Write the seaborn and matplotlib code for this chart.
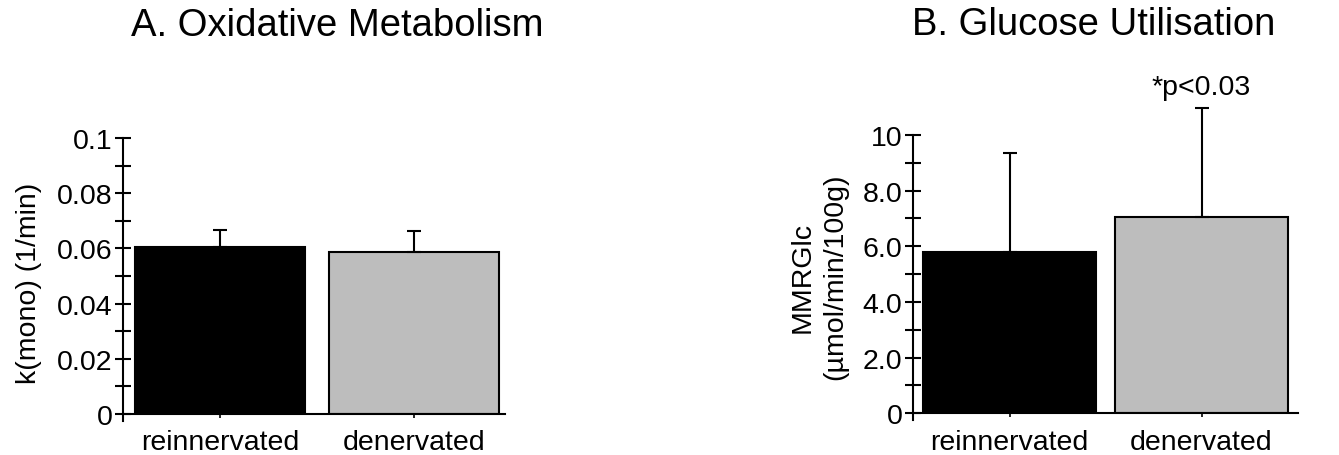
import matplotlib
matplotlib.use("Agg")
import matplotlib.pyplot as plt
from matplotlib.ticker import AutoMinorLocator, FixedLocator, FixedFormatter
import seaborn as sns
import pandas as pd

# ---- data ----
groups = ["reinnervated", "denervated"]
ox_mean = [0.0606, 0.0588]
ox_err = [0.0061, 0.0074]
glc_mean = [5.81, 7.06]
glc_err = [3.53, 3.90]
ox_ticks = [0, 0.02, 0.04, 0.06, 0.08, 0.1]
ox_ticklabels = ["0", "0.02", "0.04", "0.06", "0.08", "0.1"]
glc_ticks = [0, 2, 4, 6, 8, 10]
glc_ticklabels = ["0", "2.0", "4.0", "6.0", "8.0", "10"]
bar_colors = ["#000000", "#bdbdbd"]
sig_text = "*p<0.03"

sns.set_theme(style="white")
plt.rcParams["font.family"] = ["Liberation Sans", "DejaVu Sans"]
plt.rcParams["text.color"] = "black"

W, H = 1339, 456
fig = plt.figure(figsize=(W / 100, H / 100), dpi=100)

def px_axes(l, r, b, t):
    return fig.add_axes([l / W, (H - b) / H, (r - l) / W, (b - t) / H])

axA = px_axes(123, 505, 415, 139)
axB = px_axes(913, 1298, 414.3, 136)

FS = 20.5

def draw(ax, means, errs, ticks, ticklabels, width, ylim, ylabel, title, tx, ty):
    df = pd.DataFrame({"group": groups, "value": means})
    sns.barplot(data=df, x="group", y="value", hue="group", palette=bar_colors,
                width=width, edgecolor="black", linewidth=1.5, errorbar=None,
                legend=False, ax=ax, zorder=2)
    eb = ax.errorbar(range(len(means)), means, yerr=[[0] * len(errs), errs], fmt="none",
                     ecolor="black", elinewidth=1.5, capsize=5, capthick=1.5, zorder=3)
    for art in list(eb.lines[1]) + list(eb.lines[2]):
        art.set_clip_on(False)
    ax.set_ylim(*ylim)
    ax.yaxis.set_major_locator(FixedLocator(ticks))
    ax.yaxis.set_major_formatter(FixedFormatter(ticklabels))
    ax.yaxis.set_minor_locator(AutoMinorLocator(2))
    for s in ["top", "right"]:
        ax.spines[s].set_visible(False)
    for s in ["left", "bottom"]:
        ax.spines[s].set_color("black")
        ax.spines[s].set_linewidth(1.5)
    ax.spines["left"].set_bounds(ylim[0] - (ylim[1] - ylim[0]) * 0.024, ylim[1])
    ax.tick_params(axis="y", which="both", direction="inout", length=12, width=1.5,
                   color="black", labelsize=FS, pad=1.5, left=True, labelcolor="black")
    ax.tick_params(axis="x", which="major", direction="out", length=3, width=1.2,
                   color="black", labelsize=FS, pad=8, bottom=True, labelcolor="black")
    ax.set_xlabel("")
    ax.set_ylabel(ylabel, fontsize=FS, linespacing=1.3, color="black")
    ax.set_title(title, fontsize=27.5, color="black", x=tx, y=ty)
    ax.grid(False)

draw(axA, ox_mean, ox_err, ox_ticks, ox_ticklabels, 0.88, (0, 0.1),
     "k(mono) (1/min)", "A. Oxidative Metabolism", 0.561, 1.342)
axA.set_xlim(-0.502, 1.47)
axA.yaxis.set_label_coords(-0.212, 0.478)

draw(axB, glc_mean, glc_err, glc_ticks, glc_ticklabels, 0.90, (0, 10),
     "MMRGlc\n(µmol/min/100g)", "B. Glucose Utilisation", 0.469, 1.332)
axB.set_xlim(-0.504, 1.503)
axB.yaxis.set_label_coords(-0.169, 0.493)

# significance annotation above the denervated error bar
axB.annotate(sig_text, xy=(1, glc_mean[1] + glc_err[1]), xytext=(0, 6),
             textcoords="offset points", ha="center", va="bottom", fontsize=FS,
             color="black", annotation_clip=False)

fig.savefig("out.png", dpi=100, facecolor="white")
